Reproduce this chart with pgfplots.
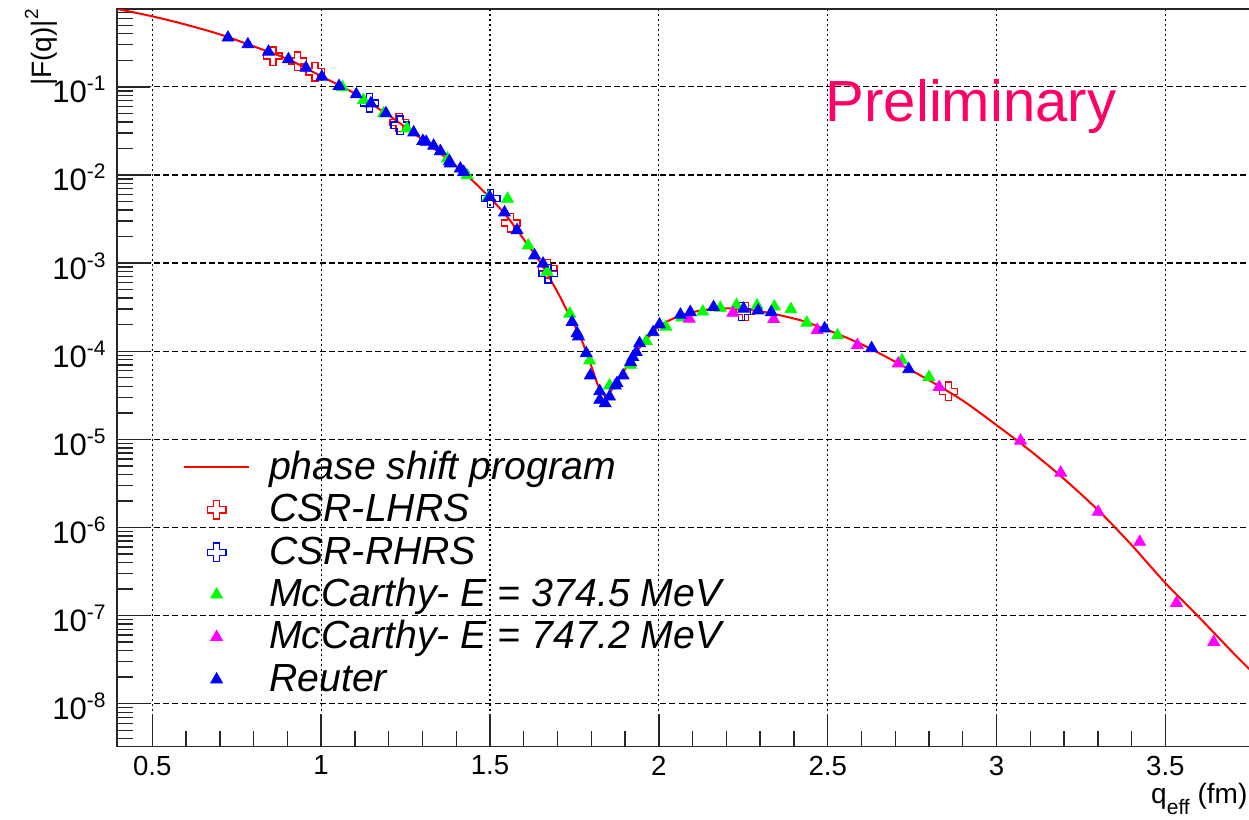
\documentclass[border=0pt]{standalone}
\usepackage{fontspec}
\setmainfont{Liberation Sans}
\usepackage{pgfplots}
\pgfplotsset{compat=1.18}
\definecolor{prelim}{RGB}{255,0,102}
\definecolor{rgreen}{RGB}{0,255,0}
\definecolor{rmag}{RGB}{255,0,255}
\pgfdeclareplotmark{ocross}{%
  \pgfpathmoveto{\pgfpoint{-0.33\pgfplotmarksize}{\pgfplotmarksize}}%
  \pgfpathlineto{\pgfpoint{0.33\pgfplotmarksize}{\pgfplotmarksize}}%
  \pgfpathlineto{\pgfpoint{0.33\pgfplotmarksize}{0.33\pgfplotmarksize}}%
  \pgfpathlineto{\pgfpoint{\pgfplotmarksize}{0.33\pgfplotmarksize}}%
  \pgfpathlineto{\pgfpoint{\pgfplotmarksize}{-0.33\pgfplotmarksize}}%
  \pgfpathlineto{\pgfpoint{0.33\pgfplotmarksize}{-0.33\pgfplotmarksize}}%
  \pgfpathlineto{\pgfpoint{0.33\pgfplotmarksize}{-\pgfplotmarksize}}%
  \pgfpathlineto{\pgfpoint{-0.33\pgfplotmarksize}{-\pgfplotmarksize}}%
  \pgfpathlineto{\pgfpoint{-0.33\pgfplotmarksize}{-0.33\pgfplotmarksize}}%
  \pgfpathlineto{\pgfpoint{-\pgfplotmarksize}{-0.33\pgfplotmarksize}}%
  \pgfpathlineto{\pgfpoint{-\pgfplotmarksize}{0.33\pgfplotmarksize}}%
  \pgfpathlineto{\pgfpoint{-0.33\pgfplotmarksize}{0.33\pgfplotmarksize}}%
  \pgfpathclose
  \pgfusepathqstroke
}
\newcommand{\tp}[1]{10\raisebox{6pt}{\fontsize{10.5}{10.5}\selectfont #1}}
\pgfplotsset{
  markleg/.style={legend image code/.code={\path[draw=none,fill=none] (0pt,0pt) -- (32.5pt,0pt); \draw[##1] plot coordinates {(16.25pt,0pt)};}},
}
\begin{document}
\begin{tikzpicture}
\begin{axis}[
  scale only axis, width=566pt, height=368.5pt,
  clip mode=individual,
  xmin=0.3956, xmax=3.750,
  ymode=log, ymin=3.27e-9, ymax=0.764,
  xtick={0.5,1,1.5,2,2.5,3,3.5}, minor x tick num=4,
  ytick={1e-8,1e-7,1e-6,1e-5,1e-4,1e-3,1e-2,1e-1},
  yticklabels={\tp{-8},\tp{-7},\tp{-6},\tp{-5},\tp{-4},\tp{-3},\tp{-2},\tp{-1}},
  minor ytick={4e-9,5e-9,6e-9,7e-9,8e-9,9e-9,
    2e-8,3e-8,4e-8,5e-8,6e-8,7e-8,8e-8,9e-8,
    2e-7,3e-7,4e-7,5e-7,6e-7,7e-7,8e-7,9e-7,
    2e-6,3e-6,4e-6,5e-6,6e-6,7e-6,8e-6,9e-6,
    2e-5,3e-5,4e-5,5e-5,6e-5,7e-5,8e-5,9e-5,
    2e-4,3e-4,4e-4,5e-4,6e-4,7e-4,8e-4,9e-4,
    2e-3,3e-3,4e-3,5e-3,6e-3,7e-3,8e-3,9e-3,
    2e-2,3e-2,4e-2,5e-2,6e-2,7e-2,8e-2,9e-2,
    2e-1,3e-1,4e-1,5e-1,6e-1,7e-1},
  tick pos=left, tick align=inside,
  major tick length=16.5pt, minor tick length=7.8pt,
  every tick/.style={black!85, line width=0.7pt},
  axis line style={black!85, line width=0.75pt},
  xmajorgrids, ymajorgrids,
  x grid style={black, line width=0.6pt, dash pattern=on 1.2pt off 1.3pt},
  y grid style={black, line width=0.6pt, dash pattern=on 3pt off 1.6pt},
  /pgf/number format/assume math mode=true,
  xticklabel style={font=\fontsize{13.8}{13.8}\selectfont, inner sep=0pt, anchor=north, yshift=-4.5pt},
  yticklabel style={font=\fontsize{15.5}{15.5}\selectfont, inner sep=0pt, anchor=base east, xshift=-5.5pt, yshift=-8pt},
  legend cell align=left,
  legend style={at={(axis description cs:0.0583,0.4072)}, anchor=north west,
    draw=none, fill=none, inner sep=0pt, outer sep=0pt,
    font=\itshape\fontsize{19.6}{20}\selectfont,
    row sep=0pt, column sep=9.5pt,
    cells={anchor=west},
    nodes={inner sep=0pt, text height=16.5pt, text depth=4.7pt}},
]
\addplot[red, line width=1pt, smooth, no marks,
  legend image code/.code={\draw[red, line width=1pt] (0pt,0pt) -- (32.5pt,0pt);}] table {
x y
0.39 0.773
0.5 0.631
0.6 0.507
0.7 0.394
0.8 0.288
0.9 0.207
1.0 0.132
1.1 0.0838
1.2 0.0474
1.3 0.0251
1.4 0.0126
1.45 0.00851
1.5 0.00550
1.55 0.00339
1.6 0.00186
1.65 0.00100
1.7 4.68e-4
1.74 2.34e-4
1.77 1.38e-4
1.8 6.76e-5
1.82 4.07e-5
1.835 3.24e-5
1.845 3.09e-5
1.86 3.63e-5
1.885 5.01e-5
1.925 8.91e-5
1.965 1.38e-4
2.0 1.91e-4
2.06 2.51e-4
2.12 2.88e-4
2.18 3.05e-4
2.24 3.02e-4
2.32 2.75e-4
2.42 2.24e-4
2.5 1.74e-4
2.6 1.20e-4
2.7 7.59e-5
2.8 4.68e-5
2.9 2.75e-5
3.0 1.45e-5
3.1 7.41e-6
3.2 3.55e-6
3.3 1.58e-6
3.4 6.31e-7
3.5 2.34e-7
3.6 9.55e-8
3.7 3.80e-8
3.76 2.24e-8
};
\addlegendentry{phase shift program}
\addplot[only marks, mark=ocross, mark size=4.6pt, red, mark options={line width=0.7pt}, markleg] table {
x y
0.857 0.223
0.930 0.196
0.982 0.148
1.231 0.0394
1.561 0.00285
1.671 8.63e-4
2.256 2.82e-4
2.858 3.51e-5
};
\addlegendentry{CSR-LHRS}
\addplot[only marks, mark=ocross, mark size=4.6pt, blue, mark options={line width=0.7pt}, markleg] table {
x y
1.143 0.0658
1.234 0.0367
1.502 0.00541
1.672 7.59e-4
2.244 2.82e-4
};
\addlegendentry{CSR-RHRS}
\addplot[only marks, mark=triangle*, mark size=3.4pt, rgreen, markleg] table {
x y
1.063 0.0984
1.125 0.0706
1.185 0.0499
1.254 0.0337
1.374 0.0153
1.432 0.00993
1.495 0.00562
1.552 0.00535
1.613 0.00158
1.669 7.94e-4
1.736 2.66e-4
1.795 7.83e-5
1.854 4.07e-5
1.916 7.00e-5
1.963 1.30e-4
2.021 1.89e-4
2.068 2.40e-4
2.130 2.81e-4
2.182 3.10e-4
2.230 3.34e-4
2.291 3.30e-4
2.342 3.20e-4
2.391 2.99e-4
2.438 2.10e-4
2.529 1.51e-4
2.720 7.85e-5
2.800 5.08e-5
};
\addlegendentry{McCarthy- E = 374.5 MeV}
\addplot[only marks, mark=triangle*, mark size=3.4pt, rmag, markleg] table {
x y
2.090 2.33e-4
2.219 2.72e-4
2.340 2.31e-4
2.469 1.74e-4
2.588 1.17e-4
2.709 7.24e-5
2.830 3.92e-5
3.071 9.64e-6
3.190 4.17e-6
3.301 1.50e-6
3.424 6.85e-7
3.533 1.39e-7
3.643 5.01e-8
};
\addlegendentry{McCarthy- E = 747.2 MeV}
\addplot[only marks, mark=triangle*, mark size=3.4pt, blue, markleg] table {
x y
0.724 0.361
0.783 0.303
0.844 0.250
0.903 0.205
0.955 0.164
1.002 0.130
1.053 0.102
1.104 0.0820
1.147 0.0647
1.192 0.0499
1.274 0.0303
1.301 0.0243
1.311 0.0237
1.333 0.0214
1.353 0.0186
1.380 0.0143
1.382 0.0135
1.412 0.0118
1.422 0.0108
1.499 0.00562
1.543 0.00374
1.580 0.00236
1.632 0.00122
1.657 9.84e-4
1.743 2.14e-4
1.758 1.60e-4
1.762 1.47e-4
1.785 9.48e-5
1.797 5.30e-5
1.825 3.51e-5
1.825 2.80e-5
1.841 2.56e-5
1.854 3.05e-5
1.871 4.07e-5
1.876 4.33e-5
1.894 5.30e-5
1.916 7.50e-5
1.923 8.55e-5
1.933 9.75e-5
1.943 1.23e-4
1.983 1.64e-4
2.002 2.01e-4
2.064 2.59e-4
2.093 2.77e-4
2.162 3.16e-4
2.251 3.03e-4
2.294 2.90e-4
2.333 2.77e-4
2.491 1.81e-4
2.630 1.08e-4
2.740 6.24e-5
};
\addlegendentry{Reuter}
\node[anchor=base west, inner sep=0pt, text=prelim, font=\fontsize{29}{29}\selectfont] at (axis description cs:0.6254,0.8471) {Preliminary};
\node[anchor=base east, inner sep=0pt, font=\fontsize{14}{14}\selectfont] at (axis description cs:0.9982,-0.0773) {q\raisebox{-5.5pt}{\fontsize{10.5}{10.5}\selectfont eff} (fm)};
\node[anchor=base east, rotate=90, inner sep=0pt, font=\fontsize{14}{14}\selectfont] at (axis description cs:-0.0583,1) {|F(q)|\raisebox{6.5pt}{\fontsize{9.5}{9.5}\selectfont 2}};
\end{axis}
\pgfresetboundingbox
\path[use as bounding box] (-58.5pt,-36.5pt) rectangle (565.6pt,373pt);
\end{tikzpicture}
\end{document}
